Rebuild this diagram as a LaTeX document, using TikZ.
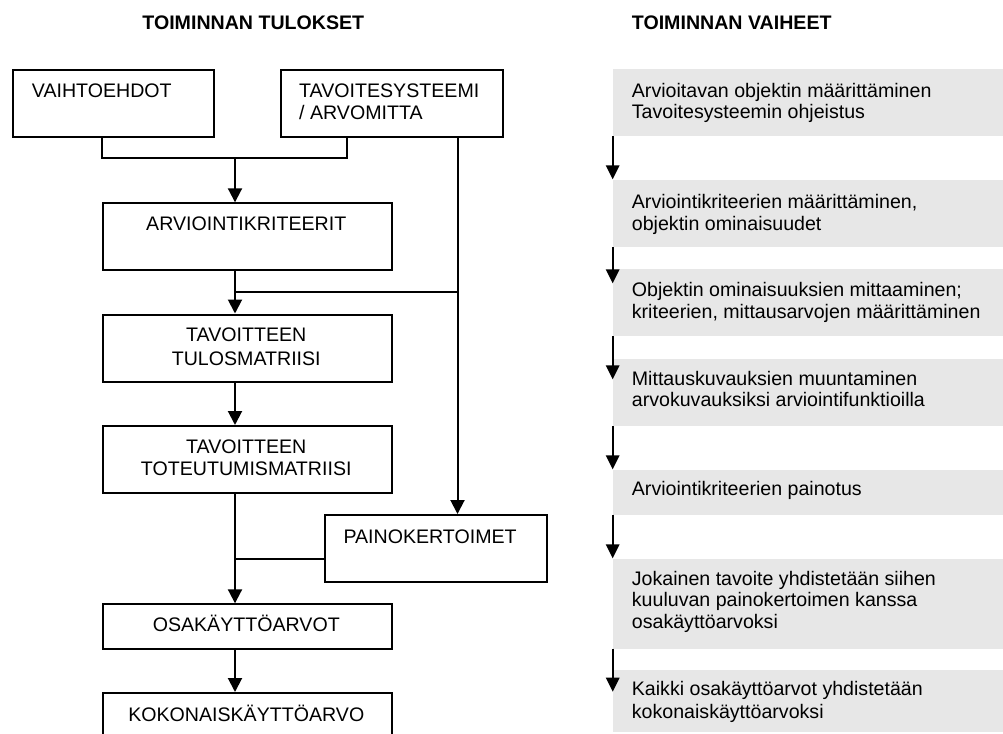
\documentclass[tikz,border=0pt]{standalone}
\usepackage{fontspec}
\setmainfont{Liberation Sans}
\usetikzlibrary{arrows.meta}
\definecolor{phasegray}{RGB}{231,231,231}
\begin{document}
\begin{tikzpicture}[x=1pt,y=-1pt,
  box/.style={draw, line width=2pt, inner sep=0pt, anchor=north west},
  phase/.style={fill=phasegray, inner sep=0pt, anchor=north west},
  txt/.style={inner sep=0pt, anchor=base west, font=\fontsize{19.6}{22}\selectfont},
  ctxt/.style={txt, anchor=base},
  ttl/.style={inner sep=0pt, font=\fontsize{19.6}{22}\selectfont\bfseries},
  link/.style={line width=2pt},
  arr/.style={link, -{Triangle[length=14pt,width=14pt]}},
  parr/.style={line width=1.6pt, -{Triangle[length=14pt,width=13.5pt]}},
]
\useasboundingbox (0,0) rectangle (1003,733);
\clip (0,0) rectangle (1003,733);

% column headings
\node[ttl, anchor=base] (h1) at (253.3,30) {TOIMINNAN TULOKSET};
\node[ttl, anchor=base west] (h2) at (631.7,30) {TOIMINNAN VAIHEET};

% ---- results column: boxes ----
\node[box, minimum width=200.5pt, minimum height=67pt] (vaihto) at (12,69) {};
\node[box, minimum width=222.2pt, minimum height=67pt] (tavoite) at (279.5,69) {};
\node[box, minimum width=289.5pt, minimum height=67pt] (arvio) at (101.5,202.3) {};
\node[box, minimum width=289.5pt, minimum height=67.5pt] (tulos) at (101.5,313.5) {};
\node[box, minimum width=289.5pt, minimum height=67pt] (toteu) at (101.5,425) {};
\node[box, minimum width=222pt, minimum height=66.7pt] (paino) at (324,514) {};
\node[box, minimum width=289.5pt, minimum height=44.2pt] (osak) at (101.5,603.3) {};
\node[box, minimum width=289.5pt, minimum height=60pt] (koko) at (101.5,692) {};

% ---- results column: texts ----
\node[txt] (vaihto-t) at (31.7,97.7) {VAIHTOEHDOT};
\node[txt] (tavoite-t1) at (299,97.7) {TAVOITESYSTEEMI};
\node[txt] (tavoite-t2) at (299,119.5) {/ ARVOMITTA};
\node[ctxt] (arvio-t) at (246.25,230.7) {ARVIOINTIKRITEERIT};
\node[ctxt] (tulos-t1) at (246.25,341.7) {TAVOITTEEN};
\node[ctxt] (tulos-t2) at (246.25,365) {TULOSMATRIISI};
\node[ctxt] (toteu-t1) at (246.25,453.3) {TAVOITTEEN};
\node[ctxt] (toteu-t2) at (246.25,475) {TOTEUTUMISMATRIISI};
\node[txt] (paino-t) at (343.3,543.3) {PAINOKERTOIMET};
\node[ctxt] (osak-t) at (246.25,631.7) {OSAKÄYTTÖARVOT};
\node[ctxt] (koko-t) at (246.25,721) {KOKONAISKÄYTTÖARVO};

% ---- results column: connectors ----
\coordinate (j1l) at (101.7,158.3);
\coordinate (j1r) at (346.7,158.3);
\coordinate (j1) at (235,158.3);
\coordinate (j2) at (235,292);
\coordinate (j2r) at (457.5,292);
\coordinate (j3) at (235,559);

\draw[link] (j1l |- vaihto.south) -- (j1l) -- (j1r) -- (j1r |- tavoite.south);
\draw[arr] (j1) -- (j1 |- arvio.north);
\draw[arr] (j2 |- arvio.south) -- (j2 |- tulos.north);
\draw[link] (j2) -- (j2r);
\draw[arr] (j2r |- tavoite.south) -- (j2r |- paino.north);
\draw[arr] (j2 |- tulos.south) -- (j2 |- toteu.north);
\draw[arr] (j3 |- toteu.south) -- (j3 |- osak.north);
\draw[link] (j3 -| paino.west) -- (j3);
\draw[arr] (j3 |- osak.south) -- (j3 |- koko.north);

% ---- phases column: shaded boxes ----
\node[phase, minimum width=400pt, minimum height=66.7pt] (p1) at (612.7,69) {};
\node[phase, minimum width=400pt, minimum height=66.7pt] (p2) at (612.7,180) {};
\node[phase, minimum width=400pt, minimum height=66.7pt] (p3) at (612.7,269) {};
\node[phase, minimum width=400pt, minimum height=66.7pt] (p4) at (612.7,359) {};
\node[phase, minimum width=400pt, minimum height=44.3pt] (p5) at (612.7,470) {};
\node[phase, minimum width=400pt, minimum height=89.3pt] (p6) at (612.7,559) {};
\node[phase, minimum width=400pt, minimum height=61.7pt] (p7) at (612.7,670) {};

% ---- phases column: texts ----
\node[txt] (p1-t1) at (631.7,97.7) {Arvioitavan objektin määrittäminen};
\node[txt] (p1-t2) at (631.7,119) {Tavoitesysteemin ohjeistus};
\node[txt] (p2-t1) at (631.7,208) {Arviointikriteerien määrittäminen,};
\node[txt] (p2-t2) at (631.7,230) {objektin ominaisuudet};
\node[txt] (p3-t1) at (631.7,296.7) {Objektin ominaisuuksien mittaaminen;};
\node[txt] (p3-t2) at (631.7,318.3) {kriteerien, mittausarvojen määrittäminen};
\node[txt] (p4-t1) at (631.7,385) {Mittauskuvauksien muuntaminen};
\node[txt] (p4-t2) at (631.7,406.7) {arvokuvauksiksi arviointifunktioilla};
\node[txt] (p5-t) at (631.7,495) {Arviointikriteerien painotus};
\node[txt] (p6-t1) at (631.7,585) {Jokainen tavoite yhdistetään siihen};
\node[txt] (p6-t2) at (631.7,606.5) {kuuluvan painokertoimen kanssa};
\node[txt] (p6-t3) at (631.7,628) {osakäyttöarvoksi};
\node[txt] (p7-t1) at (631.7,695) {Kaikki osakäyttöarvot yhdistetään};
\node[txt] (p7-t2) at (631.7,718.3) {kokonaiskäyttöarvoksi};

% ---- phases column: arrows ----
\coordinate (a1) at (612.7,179.3);
\coordinate (a2) at (612.7,283.3);
\coordinate (a3) at (612.7,379.3);
\coordinate (a4) at (612.7,469.3);
\coordinate (a5) at (612.7,558.3);
\coordinate (a6) at (612.7,691.7);
\draw[parr] (p1.south west) -- (a1);
\draw[parr] (p2.south west) -- (a2);
\draw[parr] (p3.south west) -- (a3);
\draw[parr] (p4.south west) -- (a4);
\draw[parr] (p5.south west) -- (a5);
\draw[parr] (p6.south west) -- (a6);
\end{tikzpicture}
\end{document}
